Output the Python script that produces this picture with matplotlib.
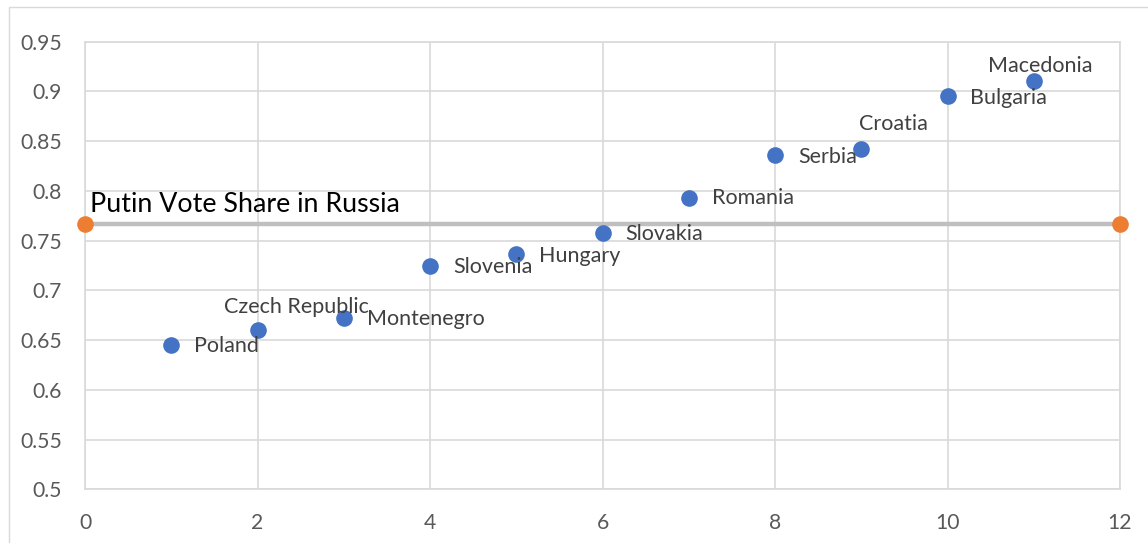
import matplotlib.pyplot as plt
from matplotlib.patches import Rectangle

# data
countries = ["Poland", "Czech Republic", "Montenegro", "Slovenia", "Hungary",
             "Slovakia", "Romania", "Serbia", "Croatia", "Bulgaria", "Macedonia"]
rank = [1, 2, 3, 4, 5, 6, 7, 8, 9, 10, 11]
share = [0.645, 0.660, 0.672, 0.724, 0.737, 0.758, 0.793, 0.836, 0.842, 0.895, 0.910]
russia_x = [0, 12]
russia_share = [0.767, 0.767]

# label offsets in pixels (dx, dy), like the moved Excel data labels
label_off = {
    "Poland": (23, -1), "Czech Republic": (-33, 23), "Montenegro": (23, -1),
    "Slovenia": (23, -1), "Hungary": (23, -2), "Slovakia": (23, -1),
    "Romania": (23, 0), "Serbia": (23, -2), "Croatia": (-2, 25),
    "Bulgaria": (23, -2), "Macedonia": (-46, 15),
}

plt.rcParams['font.family'] = ['Lato', 'DejaVu Sans']

fig = plt.figure(figsize=(11.48, 5.43), dpi=100)
ax = fig.add_axes([85/1148, 1-489.3/543, (1120-85)/1148, (489.3-41.7)/543])

# outer chart border
fig.patches.append(Rectangle((9/1148, -0.05), 1.2, 1-6.7/543+0.05,
                             transform=fig.transFigure, fill=False,
                             edgecolor='#d9d9d9', linewidth=1))

ax.plot(russia_x, russia_share, color='#bfbfbf', linewidth=3.2, zorder=2)
ax.scatter(russia_x, russia_share, s=120, color='#ed7d31', zorder=3, clip_on=False)
ax.scatter(rank, share, s=120, color='#4472c4', zorder=3)

for name, x, y in zip(countries, rank, share):
    dx, dy = label_off[name]
    ax.annotate(name, (x, y), xytext=(dx, dy), textcoords='offset pixels',
                ha='left', va='center', fontsize=15.5, color='#404040')

ax.annotate("Putin Vote Share in Russia", (0, russia_share[0]), xytext=(5, 7),
            textcoords='offset pixels', ha='left', va='bottom',
            fontsize=19.3, color='black')

ax.set_xlim(0, 12)
ax.set_ylim(0.5, 0.95)
ax.set_xticks(range(0, 13, 2))
ax.set_yticks([0.5, 0.55, 0.6, 0.65, 0.7, 0.75, 0.8, 0.85, 0.9, 0.95])
ax.set_yticklabels(["0.5", "0.55", "0.6", "0.65", "0.7", "0.75", "0.8", "0.85", "0.9", "0.95"])
ax.grid(True, color='#d9d9d9', linewidth=1.2)
ax.set_axisbelow(True)
for s in ax.spines.values():
    s.set_color('#d9d9d9')
    s.set_linewidth(1.2)
ax.tick_params(length=0, labelsize=15.2, labelcolor='#595959')
ax.tick_params(axis='y', pad=16.5)
ax.tick_params(axis='x', pad=17)

fig.savefig("out.png", dpi=100)
